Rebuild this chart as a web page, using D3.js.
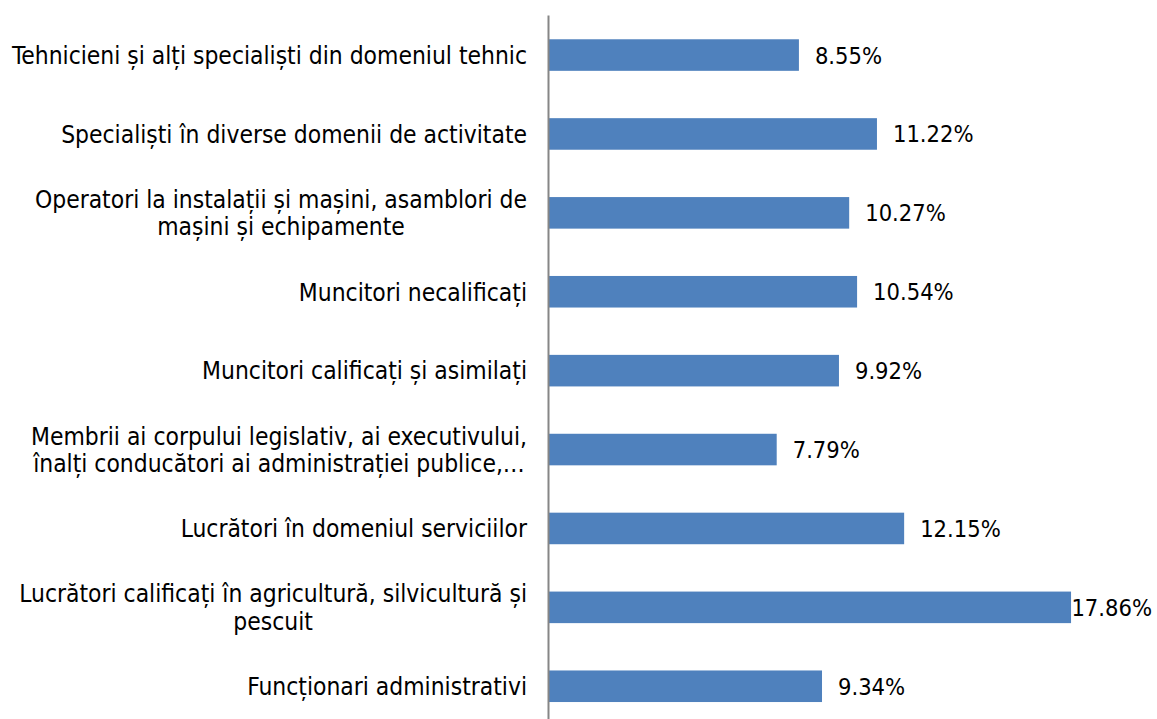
<!DOCTYPE html>
<html>
<head>
<meta charset="utf-8">
<script src="https://cdn.jsdelivr.net/npm/d3@7"></script>
<style>
  body { margin: 0; background: #fff; }
  text { font-family: 'DejaVu Sans Condensed', 'DejaVu Sans', sans-serif; fill: #000; }
</style>
</head>
<body>
<svg id="chart" width="1157" height="719"></svg>
<script>
// categories, top to bottom (line breaks as in the original)
var categories = [
    ["Tehnicieni și alți specialiști din domeniul tehnic"],
    ["Specialiști în diverse domenii de activitate"],
    ["Operatori la instalații și mașini, asamblori de", "mașini și echipamente"],
    ["Muncitori necalificați"],
    ["Muncitori calificați și asimilați"],
    ["Membrii ai corpului legislativ, ai executivului,", "înalți conducători ai administrației publice,…"],
    ["Lucrători în domeniul serviciilor"],
    ["Lucrători calificați în agricultură, silvicultură și", "pescuit"],
    ["Funcționari administrativi"]
];
var values = [8.55, 11.22, 10.27, 10.54, 9.92, 7.79, 12.15, 17.86, 9.34];
var valueLabels = ["8.55%", "11.22%", "10.27%", "10.54%", "9.92%", "7.79%", "12.15%", "17.86%", "9.34%"];

var W = 1157, H = 719;
var axisX = 549;
var svg = d3.select("#chart");

var y = d3.scaleBand()
    .domain(d3.range(values.length))
    .range([15.6, 725.7])
    .paddingInner(0.6)
    .paddingOuter(0.3);

var x = d3.scaleLinear()
    .domain([0, 20])
    .range([axisX, axisX + 584.6]);

var mid = function(i) { return y(i) + y.bandwidth() / 2; };

// bars
svg.append("g").selectAll("rect")
    .data(values)
    .join("rect")
    .attr("x", x(0))
    .attr("y", function(d, i) { return y(i); })
    .attr("width", function(d) { return x(d) - x(0); })
    .attr("height", y.bandwidth())
    .attr("fill", "#4F81BD");

// vertical axis line
svg.append("line")
    .attr("x1", axisX - 0.5).attr("x2", axisX - 0.5)
    .attr("y1", y.range()[0]).attr("y2", y.range()[1])
    .attr("stroke", "#868686")
    .attr("stroke-width", 2);

// category labels: block right-aligned, lines centred within block
var lineH = 27.5;
var catG = svg.append("g");
categories.forEach(function(lines, i) {
    var t = catG.append("text")
        .style("font-size", "24.4px")
        .attr("text-anchor", "middle");
    var top = mid(i) - (lines.length - 1) * lineH / 2;
    lines.forEach(function(l, j) {
        t.append("tspan")
            .attr("y", top + j * lineH)
            .attr("dy", "0.36em")
            .text(l);
    });
    var maxW = d3.max(t.selectAll("tspan").nodes(), function(n) { return n.getComputedTextLength(); });
    t.selectAll("tspan").attr("x", 527 - maxW / 2);
});

// value labels
svg.append("g").selectAll("text")
    .data(values)
    .join("text")
    .style("font-size", "23.5px")
    .attr("y", function(d, i) { return mid(i); })
    .attr("dy", "0.36em")
    .text(function(d, i) { return valueLabels[i]; })
    .attr("x", function(d) {
        var w = this.getComputedTextLength();
        return Math.min(x(d) + 16, W - 5 - w);
    });
</script>
</body>
</html>
